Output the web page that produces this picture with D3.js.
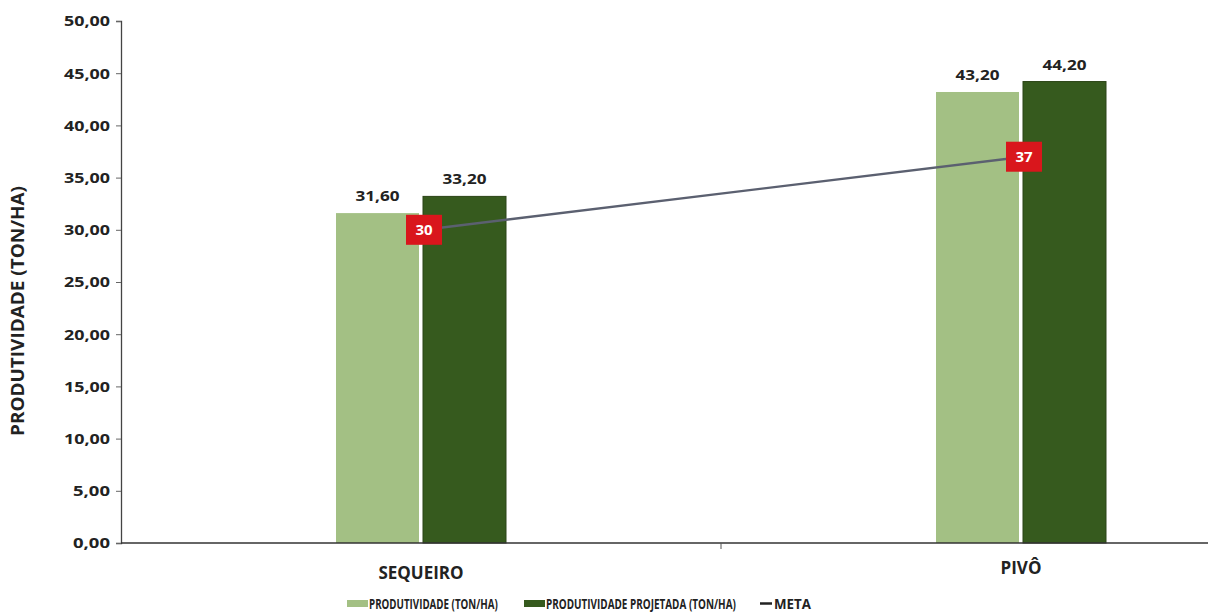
<!DOCTYPE html>
<html>
<head>
<meta charset="utf-8">
<script src="https://cdn.jsdelivr.net/npm/d3@7/dist/d3.min.js"></script>
<style>
  body { margin: 0; background: #fff; }
  svg { font-family: "Open Sans", "Noto Sans", sans-serif; font-weight: bold; }
</style>
</head>
<body>
<svg id="chart" width="1215" height="615"></svg>
<script>
const categories = ["SEQUEIRO", "PIVÔ"];
const produtividade = [31.6, 43.2];
const projetada = [33.2, 44.2];
const meta = [30, 37];
const yTicks = [0, 5, 10, 15, 20, 25, 30, 35, 40, 45, 50];
const seriesNames = ["PRODUTIVIDADE (TON/HA)", "PRODUTIVIDADE PROJETADA (TON/HA)", "META"];

const svg = d3.select("#chart");
const margin = {left: 121};
const fmt = v => v.toFixed(2).replace(".", ",");

const colors = {light: "#a3c084", dark: "#365a1e", meta: "#5b6070", marker: "#d9161c"};

const x = d3.scaleBand().domain(categories).range([121, 1321]);
const y = d3.scaleLinear().domain([0, 50]).range([543, 21]);

const barW = 83, gap = 4;

// y axis
const yAxis = svg.append("g")
    .attr("transform", `translate(${margin.left},0)`)
    .call(d3.axisLeft(y).tickValues(yTicks).tickFormat(fmt).tickSize(5).tickPadding(6));
yAxis.select(".domain").attr("stroke", "#444").attr("stroke-width", 1.3);
yAxis.selectAll(".tick line").attr("stroke", "#666");
yAxis.selectAll(".tick text").attr("font-size", 15).attr("fill", "#222").attr("font-weight", "bold")
    .attr("font-family", "'Open Sans', sans-serif")
    .attr("textLength", 46).attr("lengthAdjust", "spacingAndGlyphs");
yAxis.selectAll(".tick text").filter(d => d < 10).attr("textLength", 37);

// y title
svg.append("text")
    .attr("transform", "translate(24,311) rotate(-90)")
    .attr("text-anchor", "middle")
    .attr("font-size", 17)
    .attr("fill", "#222")
    .attr("textLength", 250).attr("lengthAdjust", "spacingAndGlyphs")
    .text("PRODUTIVIDADE (TON/HA)");

// bars
const groups = categories.map((c, i) => ({c, p: produtividade[i], j: projetada[i], m: meta[i]}));
const cx = d => x(d.c) + x.bandwidth() / 2;

svg.append("g").selectAll("rect").data(groups).join("rect")
    .attr("x", d => cx(d) - gap / 2 - barW)
    .attr("y", d => y(d.p))
    .attr("width", barW)
    .attr("height", d => y(0) - y(d.p))
    .attr("fill", colors.light);

svg.append("g").selectAll("rect").data(groups).join("rect")
    .attr("x", d => cx(d) + gap / 2)
    .attr("y", d => y(d.j))
    .attr("width", barW)
    .attr("height", d => y(0) - y(d.j))
    .attr("fill", colors.dark)
    .attr("stroke", "#2a4416")
    .attr("stroke-width", 1);

// value labels
svg.append("g").selectAll("text").data(groups).join("text")
    .attr("x", d => cx(d) - gap / 2 - barW / 2)
    .attr("y", d => y(d.p) - 12)
    .attr("text-anchor", "middle")
    .attr("font-size", 15).attr("fill", "#222")
    .attr("textLength", 44).attr("lengthAdjust", "spacingAndGlyphs")
    .text(d => fmt(d.p));
svg.append("g").selectAll("text").data(groups).join("text")
    .attr("x", d => cx(d) + gap / 2 + barW / 2)
    .attr("y", d => y(d.j) - 12)
    .attr("text-anchor", "middle")
    .attr("font-size", 15).attr("fill", "#222")
    .attr("textLength", 44).attr("lengthAdjust", "spacingAndGlyphs")
    .text(d => fmt(d.j));

// x axis
svg.append("line")
    .attr("x1", margin.left).attr("x2", 1208)
    .attr("y1", y(0)).attr("y2", y(0))
    .attr("stroke", "#333").attr("stroke-width", 1.5);
svg.append("line")
    .attr("x1", x(categories[1])).attr("x2", x(categories[1]))
    .attr("y1", y(0)).attr("y2", y(0) + 6)
    .attr("stroke", "#555");

svg.append("g").selectAll("text").data(groups).join("text")
    .attr("x", d => cx(d))
    .attr("y", (d, i) => i === 0 ? 579 : 574)
    .attr("text-anchor", "middle")
    .attr("font-size", 17).attr("fill", "#222")
    .text(d => d.c);

// meta line
svg.append("path")
    .datum(groups)
    .attr("fill", "none")
    .attr("stroke", colors.meta)
    .attr("stroke-width", 2.4)
    .attr("d", d3.line().x(d => cx(d) + 3).y(d => y(d.m)));

const mk = svg.append("g").selectAll("g").data(groups).join("g")
    .attr("transform", d => `translate(${cx(d) + 3},${y(d.m)})`);
mk.append("rect")
    .attr("x", -18).attr("y", -15).attr("width", 36).attr("height", 30)
    .attr("fill", colors.marker);
mk.append("text")
    .attr("text-anchor", "middle").attr("dy", "0.36em")
    .attr("font-size", 15).attr("fill", "#fff")
    .text(d => d.m);

// legend - narrow the text with a horizontal scale so its box matches the glyphs
const legend = svg.append("g").attr("font-size", 13.5).attr("fill", "#222");
const legItems = [
  {x: 347, type: "rect", color: colors.light, label: seriesNames[0], w: 129},
  {x: 524, type: "rect", color: colors.dark, label: seriesNames[1], w: 190},
  {x: 760, type: "line", color: colors.meta, label: seriesNames[2], w: 37}
];
legItems.forEach(it => {
  let tx;
  if (it.type === "rect") {
    legend.append("rect").attr("x", it.x).attr("y", 600).attr("width", 21).attr("height", 7).attr("fill", it.color);
    tx = it.x + 22;
  } else {
    legend.append("line").attr("x1", it.x).attr("x2", it.x + 12).attr("y1", 603.5).attr("y2", 603.5)
        .attr("stroke", "#222").attr("stroke-width", 2.5);
    tx = it.x + 14;
  }
  const g = legend.append("g");
  const t = g.append("text").attr("x", 0).attr("y", 0).text(it.label);
  const sx = it.w / t.node().getComputedTextLength();
  g.attr("transform", `translate(${tx},609) scale(${sx},1)`);
});
</script>
</body>
</html>
